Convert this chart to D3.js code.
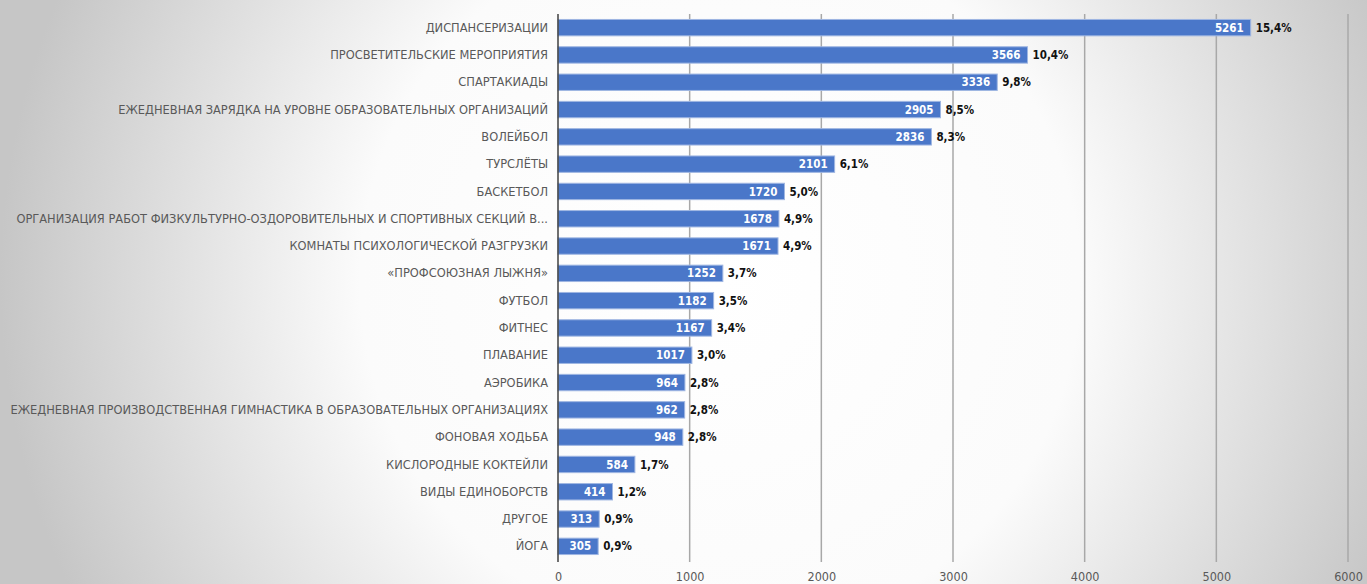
<!DOCTYPE html>
<html>
<head>
<meta charset="utf-8">
<style>
    body {
        margin: 0;
        overflow: hidden;
    }
    .cat text {
        fill: #404040;
    }
    .tick text {
        fill: #595959;
    }
</style>
</head>
<body>
<svg id="chart" width="1367" height="584"></svg>
<script src="https://cdn.jsdelivr.net/npm/d3@7"></script>
<script>
    let categories = [
        "ДИСПАНСЕРИЗАЦИИ",
        "ПРОСВЕТИТЕЛЬСКИЕ МЕРОПРИЯТИЯ",
        "СПАРТАКИАДЫ",
        "ЕЖЕДНЕВНАЯ ЗАРЯДКА НА УРОВНЕ ОБРАЗОВАТЕЛЬНЫХ ОРГАНИЗАЦИЙ",
        "ВОЛЕЙБОЛ",
        "ТУРСЛЁТЫ",
        "БАСКЕТБОЛ",
        "ОРГАНИЗАЦИЯ РАБОТ ФИЗКУЛЬТУРНО-ОЗДОРОВИТЕЛЬНЫХ И СПОРТИВНЫХ СЕКЦИЙ В...",
        "КОМНАТЫ ПСИХОЛОГИЧЕСКОЙ РАЗГРУЗКИ",
        "«ПРОФСОЮЗНАЯ ЛЫЖНЯ»",
        "ФУТБОЛ",
        "ФИТНЕС",
        "ПЛАВАНИЕ",
        "АЭРОБИКА",
        "ЕЖЕДНЕВНАЯ ПРОИЗВОДСТВЕННАЯ ГИМНАСТИКА В ОБРАЗОВАТЕЛЬНЫХ ОРГАНИЗАЦИЯХ",
        "ФОНОВАЯ ХОДЬБА",
        "КИСЛОРОДНЫЕ КОКТЕЙЛИ",
        "ВИДЫ ЕДИНОБОРСТВ",
        "ДРУГОЕ",
        "ЙОГА"
    ]
    let values = [5261, 3566, 3336, 2905, 2836, 2101, 1720, 1678, 1671, 1252,
                  1182, 1167, 1017, 964, 962, 948, 584, 414, 313, 305]
    let percents = ["15,4%", "10,4%", "9,8%", "8,5%", "8,3%", "6,1%", "5,0%", "4,9%", "4,9%", "3,7%",
                    "3,5%", "3,4%", "3,0%", "2,8%", "2,8%", "2,8%", "1,7%", "1,2%", "0,9%", "0,9%"]
    let tickValues = [0, 1000, 2000, 3000, 4000, 5000, 6000]

    let font = "'Liberation Sans Narrow', 'DejaVu Sans Condensed', sans-serif"
    let svg = d3.select("#chart")

    // background: white in the middle, grey towards the edges
    let defs = svg.append("defs")
    let grad = defs.append("radialGradient")
        .attr("id", "bg")
        .attr("gradientUnits", "userSpaceOnUse")
        .attr("cx", 720).attr("cy", 280).attr("r", 720)
    grad.append("stop").attr("offset", "0").attr("stop-color", "#ffffff")
    grad.append("stop").attr("offset", "0.5").attr("stop-color", "#fbfbfb")
    grad.append("stop").attr("offset", "1").attr("stop-color", "#c6c6c6")
    svg.append("rect").attr("width", 1367).attr("height", 584).attr("fill", "url(#bg)")

    let xScale = d3.scaleLinear().domain([0, 6000]).range([558, 1348])
    let yScale = d3.scaleBand().domain(categories).range([14, 560]).paddingInner(0.4).paddingOuter(0.2)

    // grid
    svg.append("g")
        .selectAll("line")
        .data(tickValues.slice(1))
        .join("line")
        .attr("x1", d => xScale(d)).attr("x2", d => xScale(d))
        .attr("y1", 14).attr("y2", 562)
        .attr("stroke", "#a8a8a8")
        .attr("stroke-width", 1.5)

    // bars
    svg.append("g")
        .selectAll("rect")
        .data(values)
        .join("rect")
        .attr("x", xScale(0))
        .attr("y", (d, i) => yScale(categories[i]))
        .attr("width", d => xScale(d) - xScale(0))
        .attr("height", yScale.bandwidth())
        .attr("fill", "#4a77c9")
        .attr("stroke", "#9fb6e2")
        .attr("stroke-width", 1)

    // values inside bars
    svg.append("g")
        .selectAll("text")
        .data(values)
        .join("text")
        .attr("x", d => xScale(d) - 7)
        .attr("y", (d, i) => yScale(categories[i]) + yScale.bandwidth() / 2)
        .attr("dy", "0.36em")
        .attr("text-anchor", "end")
        .style("font-family", font)
        .style("font-size", "11.5px")
        .style("font-weight", "bold")
        .style("fill", "#ffffff")
        .text(d => d)

    // percents after bars
    svg.append("g")
        .selectAll("text")
        .data(values)
        .join("text")
        .attr("x", d => xScale(d) + 5)
        .attr("y", (d, i) => yScale(categories[i]) + yScale.bandwidth() / 2)
        .attr("dy", "0.36em")
        .style("font-family", font)
        .style("font-size", "11.5px")
        .style("font-weight", "bold")
        .style("fill", "#111111")
        .text((d, i) => percents[i])

    // category axis
    let yAxis = d3.axisLeft(yScale).tickSize(0).tickPadding(10)
    let yAxisGroup = svg.append("g")
        .attr("class", "cat")
        .attr("transform", `translate(${xScale(0)},0)`)
        .call(yAxis)
    yAxisGroup.select(".domain").remove()
    yAxisGroup.selectAll("text")
        .style("font-family", font)
        .style("font-size", "13px")

    // fit the longest label to the width seen in the picture
    let longest = d3.max(yAxisGroup.selectAll("text").nodes(), n => n.getComputedTextLength())
    yAxisGroup.selectAll("text").style("font-size", (13 * 538 / longest) + "px")

    svg.append("line")
        .attr("x1", xScale(0)).attr("x2", xScale(0))
        .attr("y1", 14).attr("y2", 562)
        .attr("stroke", "#404040")
        .attr("stroke-width", 1.5)

    // value axis labels
    let xAxis = d3.axisBottom(xScale).tickValues(tickValues).tickFormat(d3.format("d")).tickSize(0).tickPadding(10)
    let xAxisGroup = svg.append("g")
        .attr("transform", "translate(0,562)")
        .call(xAxis)
    xAxisGroup.select(".domain").remove()
    xAxisGroup.selectAll("text")
        .style("font-family", font)
        .style("font-size", "12.5px")
</script>
</body>
</html>
